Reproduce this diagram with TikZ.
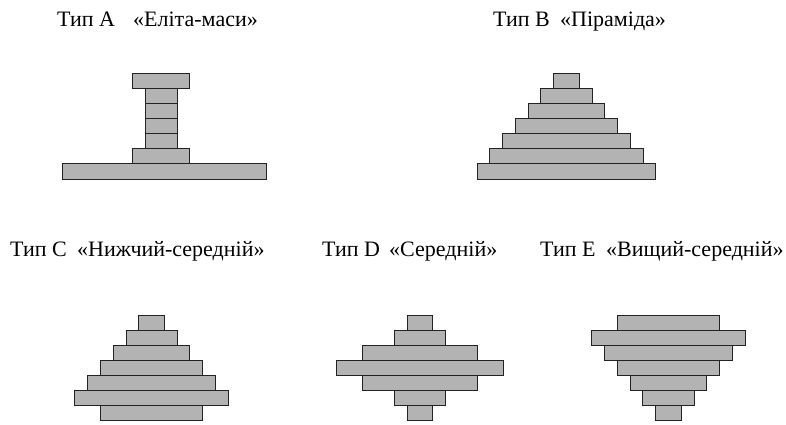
\documentclass[tikz,border=0pt]{standalone}
\usepackage{fontspec}
\setmainfont{Liberation Serif}
\definecolor{barfill}{RGB}{179,179,179}
\definecolor{bardraw}{RGB}{35,35,35}
\tikzset{
  barstyle/.style={fill=barfill, draw=bardraw, line width=0.9pt},
  titlestyle/.style={anchor=base west, inner sep=0pt, font=\fontsize{22}{26}\selectfont}
}
\newcommand\mybar[3]{\draw[barstyle] ({#1-#2},{#3}) rectangle ({#1+#2},{#3+15.1});}
\begin{document}
\begin{tikzpicture}[x=1pt,y=-1pt]
\useasboundingbox (0,0) rectangle (786,424);
% titles
\node[titlestyle] (tAa) at (57,26) {Тип A};
\node[titlestyle] (tAb) at (133,26) {«Еліта-маси»};
\node[titlestyle] (tBa) at (493,26) {Тип B};
\node[titlestyle] (tBb) at (560,26) {«Піраміда»};
\node[titlestyle] (tCa) at (10,256) {Тип C};
\node[titlestyle] (tCb) at (77,256) {«Нижчий-середній»};
\node[titlestyle] (tDa) at (322,256) {Тип D};
\node[titlestyle] (tDb) at (389,256) {«Середній»};
\node[titlestyle] (tEa) at (540,256) {Тип E};
\node[titlestyle] (tEb) at (606,256) {«Вищий-середній»};
% Type A
\draw[barstyle] (132.3,73.3) rectangle (189.7,88.4);
\foreach \y in {88.4,103.5,118.6,133.7} \draw[barstyle] (145,\y) rectangle (177,{\y+15.1});
\draw[barstyle] (132.3,148.8) rectangle (189.7,163.9);
\draw[barstyle] (62,163.9) rectangle (266.3,179);
% Type B
\foreach \i/\h in {0/13,1/25.65,2/38.35,3/51.2,4/63.8,5/76.65,6/89.35}
  {\mybar{566.3}{\h}{73.3+15.1*\i}}
% Type C
\foreach \i/\h in {0/12.8,1/25.5,2/38.35,3/51.2,4/63.8,5/76.8,6/51.2}
  {\mybar{151.5}{\h}{315+15.1*\i}}
% Type D
\foreach \i/\h in {0/12.65,1/25.65,2/57.65,3/83.4,4/57.65,5/25.65,6/12.65}
  {\mybar{419.7}{\h}{315+15.1*\i}}
% Type E
\foreach \i/\h in {0/51.2,1/76.65,2/64,3/51.2,4/38.35,5/25.65,6/13}
  {\mybar{668.5}{\h}{315+15.1*\i}}
\end{tikzpicture}
\end{document}
